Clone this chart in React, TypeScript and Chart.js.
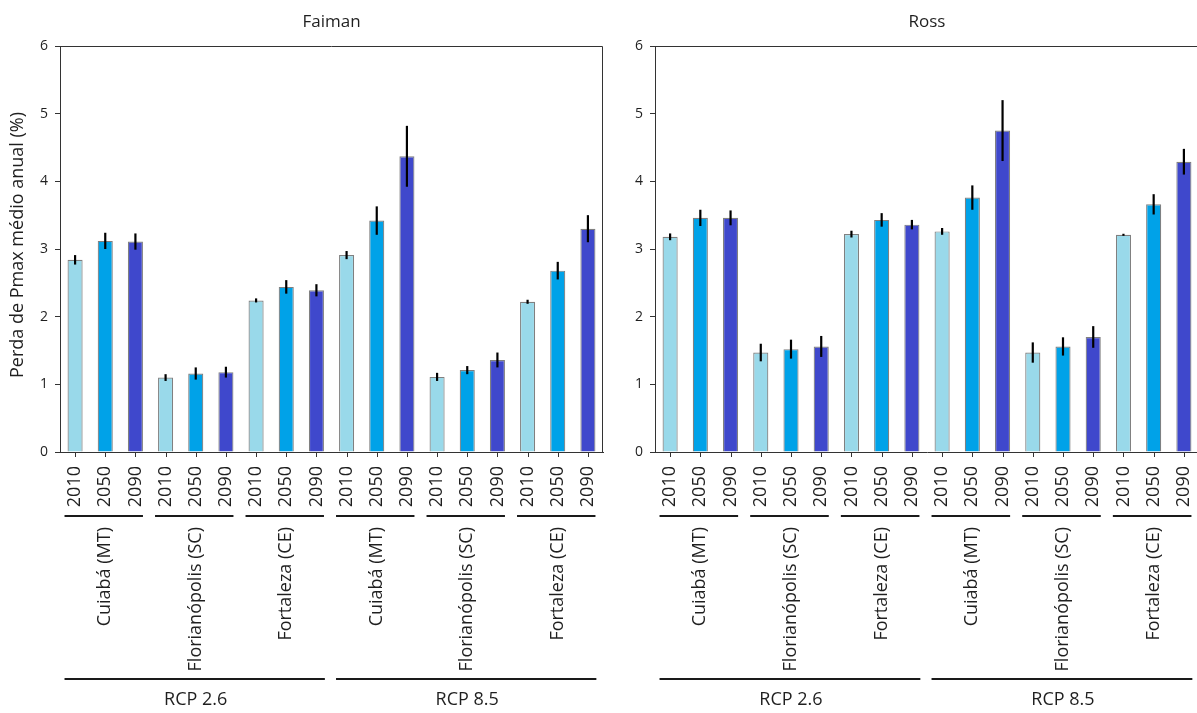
import React, { useEffect, useRef } from 'react';
import { Chart, registerables } from 'chart.js';

Chart.register(...registerables);

// ---------- data ----------
const years = ['2010', '2050', '2090'];
const cities = ['Cuiabá (MT)', 'Florianópolis (SC)', 'Fortaleza (CE)'];
const scenarios = ['RCP 2.6', 'RCP 8.5'];
const yTicks = [0, 1, 2, 3, 4, 5, 6];

const faimanValues = [2.84, 3.12, 3.11, 1.10, 1.16, 1.18, 2.24, 2.44, 2.39, 2.91, 3.42, 4.37, 1.11, 1.21, 1.36, 2.22, 2.68, 3.30];
const faimanErrors = [0.07, 0.12, 0.12, 0.05, 0.09, 0.08, 0.03, 0.10, 0.09, 0.06, 0.21, 0.45, 0.06, 0.06, 0.11, 0.03, 0.13, 0.20];
const rossValues = [3.18, 3.46, 3.46, 1.47, 1.52, 1.56, 3.22, 3.43, 3.36, 3.26, 3.76, 4.75, 1.47, 1.56, 1.70, 3.21, 3.66, 4.29];
const rossErrors = [0.05, 0.12, 0.11, 0.13, 0.14, 0.155, 0.05, 0.10, 0.07, 0.05, 0.18, 0.45, 0.15, 0.135, 0.16, 0.015, 0.15, 0.19];

const yearColors = ['#99D9EA', '#00A2E8', '#3F48CC'];
const yLabel = 'Perda de Pmax médio anual (%)';

const FONT = '"Open Sans", "Noto Sans", sans-serif';
const TEXT = '#1f1f1f';
const AXIS = '#333333';
const H = 713;
const LABEL_SIZE = 18;

type Item = { scenario: string; city: string; year: string; yearIdx: number };
const items: Item[] = [];
scenarios.forEach((s) =>
  cities.forEach((c) =>
    years.forEach((y, yi) => items.push({ scenario: s, city: c, year: y, yearIdx: yi }))
  )
);
const labels = items.map((it) => `${it.scenario} ${it.city} ${it.year}`);

function makeChart(
  canvas: HTMLCanvasElement,
  title: string,
  values: number[],
  errors: number[],
  yAxisWidth: number,
  rightPad: number,
  showYLabel: boolean
) {
  const deco = {
    id: 'deco',
    afterDatasetsDraw(chart: any) {
      const ctx = chart.ctx;
      const ys = chart.scales.y;
      const meta = chart.getDatasetMeta(0);
      ctx.save();
      ctx.strokeStyle = '#000';
      ctx.lineWidth = 2.2;
      meta.data.forEach((bar: any, i: number) => {
        const y1 = ys.getPixelForValue(values[i] - errors[i]);
        const y2 = ys.getPixelForValue(values[i] + errors[i]);
        ctx.beginPath();
        ctx.moveTo(bar.x, y1);
        ctx.lineTo(bar.x, y2);
        ctx.stroke();
      });
      ctx.restore();
    },
    afterDraw(chart: any) {
      const ctx = chart.ctx;
      const xs = chart.scales.x;
      const a = chart.chartArea;
      ctx.save();
      // top & right spines
      ctx.strokeStyle = AXIS;
      ctx.lineWidth = 1;
      ctx.beginPath();
      ctx.moveTo(Math.round(a.left) + 0.5, Math.round(a.top) + 0.5);
      ctx.lineTo(Math.round(a.right) - 0.5, Math.round(a.top) + 0.5);
      ctx.lineTo(Math.round(a.right) - 0.5, Math.round(a.bottom));
      ctx.stroke();

      // title
      ctx.fillStyle = TEXT;
      ctx.font = `17px ${FONT}`;
      ctx.textAlign = 'center';
      ctx.textBaseline = 'alphabetic';
      ctx.fillText(title, (a.left + a.right) / 2, 27);

      // y label
      if (showYLabel) {
        ctx.save();
        ctx.translate(18, 245);
        ctx.rotate(-Math.PI / 2);
        ctx.textAlign = 'center';
        ctx.textBaseline = 'middle';
        ctx.font = `${LABEL_SIZE}px ${FONT}`;
        ctx.fillText(yLabel, 0, 0);
        ctx.restore();
      }

      const w = xs.getPixelForValue(1) - xs.getPixelForValue(0);
      const base = a.bottom;

      // x tick marks and year labels
      items.forEach((it, i) => {
        const x = xs.getPixelForValue(i);
        ctx.strokeStyle = AXIS;
        ctx.lineWidth = 1;
        ctx.beginPath();
        ctx.moveTo(Math.round(x) + 0.5, base);
        ctx.lineTo(Math.round(x) + 0.5, base + 5);
        ctx.stroke();
        ctx.save();
        ctx.translate(x, base + 14);
        ctx.rotate(-Math.PI / 2);
        ctx.textAlign = 'right';
        ctx.textBaseline = 'middle';
        ctx.font = `${LABEL_SIZE}px ${FONT}`;
        ctx.fillStyle = TEXT;
        ctx.fillText(it.year, 0, 0);
        ctx.restore();
      });

      // city groups
      const nY = years.length;
      ctx.strokeStyle = '#1a1a1a';
      ctx.lineWidth = 2.2;
      for (let g = 0; g < items.length / nY; g++) {
        const first = g * nY;
        const last = first + nY - 1;
        const x0 = xs.getPixelForValue(first) - 0.35 * w;
        const x1 = xs.getPixelForValue(last) + 0.25 * w;
        ctx.beginPath();
        ctx.moveTo(x0, base + 64);
        ctx.lineTo(x1, base + 64);
        ctx.stroke();
        const xc = xs.getPixelForValue(first + (nY - 1) / 2);
        ctx.save();
        ctx.translate(xc, base + 75);
        ctx.rotate(-Math.PI / 2);
        ctx.textAlign = 'right';
        ctx.textBaseline = 'middle';
        ctx.font = `${LABEL_SIZE}px ${FONT}`;
        ctx.fillStyle = TEXT;
        ctx.fillText(items[first].city, 0, 0);
        ctx.restore();
      }

      // scenario groups
      const nS = cities.length * years.length;
      for (let s = 0; s < scenarios.length; s++) {
        const first = s * nS;
        const last = first + nS - 1;
        const x0 = xs.getPixelForValue(first) - 0.35 * w;
        const x1 = xs.getPixelForValue(last) + 0.28 * w;
        ctx.beginPath();
        ctx.moveTo(x0, base + 227);
        ctx.lineTo(x1, base + 227);
        ctx.stroke();
        const xc = xs.getPixelForValue(first + (nS - 1) / 2);
        ctx.textAlign = 'center';
        ctx.textBaseline = 'middle';
        ctx.font = `${LABEL_SIZE}px ${FONT}`;
        ctx.fillStyle = TEXT;
        ctx.fillText(scenarios[s], xc, base + 248);
      }
      ctx.restore();
    },
  };

  return new Chart(canvas, {
    type: 'bar',
    data: {
      labels,
      datasets: [
        {
          data: values,
          backgroundColor: items.map((it) => yearColors[it.yearIdx]),
          borderColor: '#808080',
          borderWidth: 1.2,
          barPercentage: 0.5,
          categoryPercentage: 1.0,
        },
      ],
    },
    options: {
      responsive: false,
      animation: false,
      layout: { padding: { top: 46, right: rightPad, left: 0, bottom: 0 } },
      plugins: { legend: { display: false }, tooltip: { enabled: false }, title: { display: false } },
      scales: {
        x: {
          type: 'category',
          offset: true,
          grid: { display: false },
          ticks: { display: false },
          border: { display: true, color: AXIS, width: 1 },
          afterFit: (s: any) => {
            s.height = H - 452;
          },
        },
        y: {
          min: 0,
          max: 6,
          afterBuildTicks: (s: any) => {
            s.ticks = yTicks.map((v) => ({ value: v }));
          },
          ticks: { font: { family: FONT, size: 14 }, color: TEXT, padding: 7 },
          grid: { drawOnChartArea: false, drawTicks: true, tickLength: 5, color: AXIS },
          border: { display: true, color: AXIS, width: 1 },
          afterFit: (s: any) => {
            s.width = yAxisWidth;
          },
        },
      },
    },
    plugins: [deco],
  } as any);
}

export default function App() {
  const leftRef = useRef<HTMLCanvasElement>(null);
  const rightRef = useRef<HTMLCanvasElement>(null);

  useEffect(() => {
    const c1 = makeChart(leftRef.current!, 'Faiman', faimanValues, faimanErrors, 60, 7, true);
    const c2 = makeChart(rightRef.current!, 'Ross', rossValues, rossErrors, 55, 3, false);
    return () => {
      c1.destroy();
      c2.destroy();
    };
  }, []);

  return (
    <div
      style={{
        position: 'fixed',
        left: 0,
        top: 0,
        width: 1197,
        height: H,
        overflow: 'hidden',
        background: '#fff',
      }}
    >
      <canvas ref={leftRef} width={610} height={H} style={{ position: 'absolute', left: 0, top: 0 }} />
      <canvas ref={rightRef} width={602} height={H} style={{ position: 'absolute', left: 600, top: 0 }} />
    </div>
  );
}
